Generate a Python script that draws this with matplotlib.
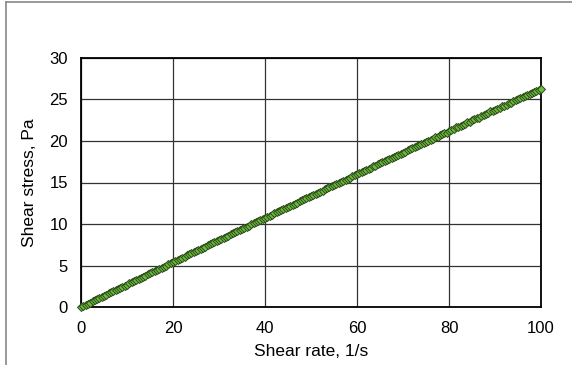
import numpy as np
import matplotlib
matplotlib.use("Agg")
import matplotlib.pyplot as plt
from matplotlib.lines import Line2D

plt.rcParams["font.family"] = ["Liberation Sans", "DejaVu Sans"]

# shear rate sampled every 0.5 1/s
shear_rate = np.arange(0, 100.5, 0.5)
shear_stress = [
    0.00, 0.14, 0.27, 0.41, 0.54, 0.68, 0.82, 0.95, 1.09, 1.22,
    1.36, 1.49, 1.63, 1.76, 1.90, 2.04, 2.17, 2.31, 2.44, 2.58,
    2.71, 2.85, 2.98, 3.12, 3.25, 3.39, 3.52, 3.66, 3.79, 3.93,
    4.06, 4.19, 4.33, 4.46, 4.60, 4.73, 4.87, 5.00, 5.14, 5.27,
    5.40, 5.54, 5.67, 5.81, 5.94, 6.07, 6.21, 6.34, 6.48, 6.61,
    6.74, 6.88, 7.01, 7.14, 7.28, 7.41, 7.55, 7.68, 7.81, 7.95,
    8.08, 8.21, 8.35, 8.48, 8.61, 8.75, 8.88, 9.01, 9.14, 9.28,
    9.41, 9.54, 9.68, 9.81, 9.94, 10.07, 10.21, 10.34, 10.47, 10.60,
    10.74, 10.87, 11.00, 11.13, 11.27, 11.40, 11.53, 11.66, 11.79, 11.93,
    12.06, 12.19, 12.32, 12.45, 12.59, 12.72, 12.85, 12.98, 13.11, 13.24,
    13.38, 13.51, 13.64, 13.77, 13.90, 14.03, 14.16, 14.30, 14.43, 14.56,
    14.69, 14.82, 14.95, 15.08, 15.21, 15.34, 15.47, 15.60, 15.74, 15.87,
    16.00, 16.13, 16.26, 16.39, 16.52, 16.65, 16.78, 16.97, 17.04, 17.17,
    17.30, 17.43, 17.62, 17.69, 17.82, 17.95, 18.08, 18.21, 18.29, 18.47,
    18.60, 18.73, 18.86, 18.99, 19.18, 19.25, 19.38, 19.51, 19.64, 19.70,
    19.89, 20.02, 20.15, 20.28, 20.47, 20.54, 20.67, 20.80, 20.93, 21.01,
    21.18, 21.31, 21.44, 21.63, 21.70, 21.83, 21.96, 22.09, 22.27, 22.34,
    22.47, 22.60, 22.73, 22.80, 22.98, 23.11, 23.24, 23.37, 23.56, 23.62,
    23.75, 23.88, 24.01, 24.19, 24.26, 24.39, 24.52, 24.60, 24.77, 24.90,
    25.03, 25.16, 25.34, 25.41, 25.54, 25.66, 25.79, 25.87, 26.05, 26.17,
    26.30,
]
x_ticks = [0, 20, 40, 60, 80, 100]
y_ticks = [0, 5, 10, 15, 20, 25, 30]

fig = plt.figure(figsize=(5.72, 3.65), dpi=100)
ax = fig.add_axes([81 / 572, 58 / 365, 460 / 572, 249 / 365])

ax.plot(shear_rate, shear_stress, linestyle="none", marker="D", markersize=4.2,
        markerfacecolor="#6cbf3c", markeredgecolor="#2e4a1c", markeredgewidth=0.7,
        zorder=3, clip_on=False)

ax.set_xlim(0, 100)
ax.set_ylim(0, 30)
ax.set_xticks(x_ticks)
ax.set_yticks(y_ticks)
ax.tick_params(length=0, labelsize=12)
ax.tick_params(axis="x", pad=10)
ax.tick_params(axis="y", pad=9.5)
ax.grid(True, color="#333333", linewidth=0.9)
ax.set_axisbelow(True)
for s in ax.spines.values():
    s.set_color("black")
    s.set_linewidth(1.3)

ax.set_xlabel("Shear rate, 1/s", fontsize=12.5, labelpad=6)
ax.set_ylabel("Shear stress, Pa", fontsize=12.5, labelpad=9)

# chart frame (only left and top edges visible)
fig.add_artist(Line2D([6 / 572, 6 / 572], [0, 1 - 2 / 365], transform=fig.transFigure,
                      color="#888888", linewidth=1.2))
fig.add_artist(Line2D([6 / 572, 1], [1 - 2 / 365, 1 - 2 / 365], transform=fig.transFigure,
                      color="#888888", linewidth=1.2))

fig.savefig("out.png", dpi=100)
